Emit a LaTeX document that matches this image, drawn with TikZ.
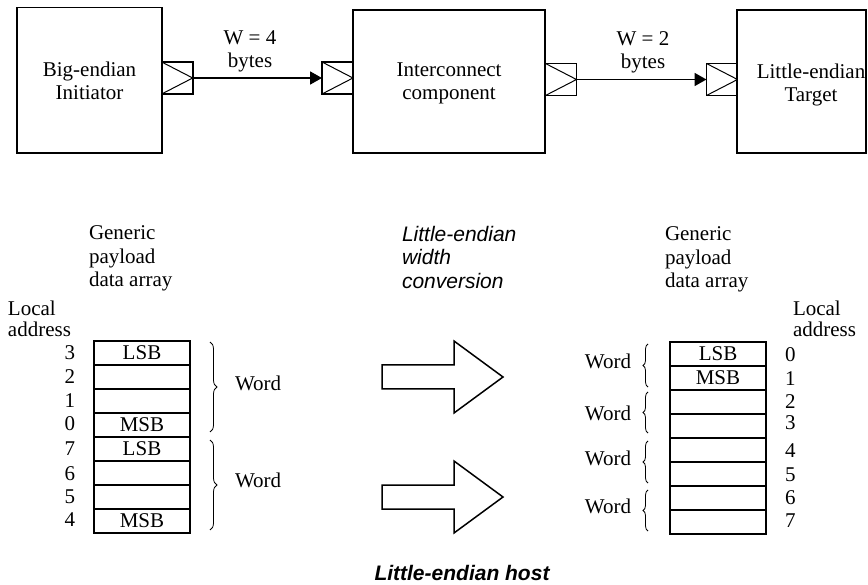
\documentclass[tikz,border=0pt]{standalone}
\usepackage{fontspec}
\setmainfont{Liberation Serif}
\newfontfamily\arialfont{Liberation Sans}
\usetikzlibrary{arrows.meta,decorations.pathreplacing}
\begin{document}
\begin{tikzpicture}[x=1pt,y=-1pt,
  every node/.style={font=\fontsize{21}{23}\selectfont, inner sep=0pt, outer sep=0pt},
  bigbox/.style={draw, line width=1.8pt, align=center, text depth=0pt},
  port/.style={draw, line width=1.6pt, minimum width=31pt, minimum height=32pt,
    path picture={\draw[line width=1pt] (path picture bounding box.north west) -- (path picture bounding box.east) -- (path picture bounding box.south west);}},
  conn/.style={line width=1.8pt, -{Triangle[length=12pt,width=13pt]}},
  cell/.style={draw, line width=1.8pt, minimum width=96pt, minimum height=24pt},
  addr/.style={},
  wbrace/.style={decorate, decoration={brace, amplitude=#1}, line width=0.8pt},
  blockarrow/.style={draw, line width=1.5pt, line join=miter, fill=white},
  multiline/.style={align=left, anchor=north west, font=\fontsize{21}{23.5}\selectfont},
  sansit/.style={font=\arialfont\itshape\fontsize{21}{23.5}\selectfont}
]
\useasboundingbox (0,0) rectangle (868,585);

% top boxes
\node[bigbox, minimum width=145pt, minimum height=145.5pt] (init) at (89.5,80.25) {Big-endian\\Initiator};
\node[bigbox, minimum width=192pt, minimum height=143pt] (inter) at (449,81.5) {Interconnect\\component};
\node[bigbox, minimum width=129pt, minimum height=143pt] (target) at (801.5,81.5) {};
\node[align=center, anchor=north] (tgttext) at (811,63.5) {Little-endian\\Target};

% ports
\node[port] (initout) at (177.2,78) {};
\node[port] (interin) at (337.5,78) {};
\node[port] (interout) at (561,79.5) {};
\node[port] (targetin) at (722,79.5) {};

\draw[conn] (initout.east) -- (interin.west);
\draw[conn] (interout.east) -- (targetin.west);
\node[align=center, anchor=north] (w4) at (250,30.6) {W = 4\\bytes};
\node[align=center, anchor=north] (w2) at (643,31.6) {W = 2\\bytes};

% left array
\node[multiline] (genL) at (89,226) {Generic\\payload\\data array};
\node[multiline, font=\fontsize{21}{20.5}\selectfont] (locL) at (8,301) {Local\\address};
\node[cell] (l0) at (142,353) {LSB};
\node[cell] (l1) at (142,377) {};
\node[cell] (l2) at (142,401) {};
\node[cell] (l3) at (142,425) {MSB};
\node[cell] (l4) at (142,449) {LSB};
\node[cell] (l5) at (142,473) {};
\node[cell] (l6) at (142,497) {};
\node[cell] (l7) at (142,521) {MSB};
\node[anchor=east] (a3) at (75,353) {3};
\node[anchor=east] (a2) at (75,377) {2};
\node[anchor=east] (a1) at (75,400.5) {1};
\node[anchor=east] (a0) at (75,424) {0};
\node[anchor=east] (a7) at (75,448.5) {7};
\node[anchor=east] (a6) at (75,473.5) {6};
\node[anchor=east] (a5) at (75,497) {5};
\node[anchor=east] (a4) at (75,520) {4};
\coordinate (bl1a) at (210,342);
\coordinate (bl1b) at (210,432);
\coordinate (bl2a) at (210,440);
\coordinate (bl2b) at (210,530);
\draw[wbrace=7pt] (bl1a) -- (bl1b);
\draw[wbrace=7pt] (bl2a) -- (bl2b);
\node[anchor=west] (wl1) at (235,383.5) {Word};
\node[anchor=west] (wl2) at (235,480) {Word};

% block arrows
\draw[blockarrow] (382,365) -- (454,365) -- (454,341) -- (503,377) -- (454,413) -- (454,389) -- (382,389) -- cycle;
\draw[blockarrow] (382,485) -- (454,485) -- (454,461) -- (503,497) -- (454,533) -- (454,509) -- (382,509) -- cycle;
\node[multiline, sansit] (conv) at (402,226) {Little-endian\\width\\conversion};

% right array
\node[multiline] (genR) at (665,227) {Generic\\payload\\data array};
\node[multiline, font=\fontsize{21}{20.5}\selectfont] (locR) at (793,301) {Local\\address};
\node[cell] (r0) at (718,354) {LSB};
\node[cell] (r1) at (718,378) {MSB};
\node[cell] (r2) at (718,402) {};
\node[cell] (r3) at (718,426) {};
\node[cell] (r4) at (718,450) {};
\node[cell] (r5) at (718,474) {};
\node[cell] (r6) at (718,498) {};
\node[cell] (r7) at (718,522) {};
\node[anchor=west] (b0) at (785,355) {0};
\node[anchor=west] (b1) at (785,379) {1};
\node[anchor=west] (b2) at (785,402) {2};
\node[anchor=west] (b3) at (785,423) {3};
\node[anchor=west] (b4) at (785,451) {4};
\node[anchor=west] (b5) at (785,475) {5};
\node[anchor=west] (b6) at (785,498) {6};
\node[anchor=west] (b7) at (785,521) {7};
\coordinate (br1a) at (648,387);
\coordinate (br1b) at (648,344);
\coordinate (br2a) at (648,433);
\coordinate (br2b) at (648,392);
\coordinate (br3a) at (648,483);
\coordinate (br3b) at (648,441);
\coordinate (br4a) at (648,531);
\coordinate (br4b) at (648,490);
\draw[wbrace=5pt] (br1a) -- (br1b);
\draw[wbrace=5pt] (br2a) -- (br2b);
\draw[wbrace=5pt] (br3a) -- (br3b);
\draw[wbrace=5pt] (br4a) -- (br4b);
\node[anchor=east] (wr1) at (631,361.5) {Word};
\node[anchor=east] (wr2) at (631,413) {Word};
\node[anchor=east] (wr3) at (631,458) {Word};
\node[anchor=east] (wr4) at (631,506.5) {Word};

\node[anchor=base, font=\arialfont\bfseries\itshape\fontsize{21}{23}\selectfont] (host) at (462,580) {Little-endian host};
\end{tikzpicture}
\end{document}
